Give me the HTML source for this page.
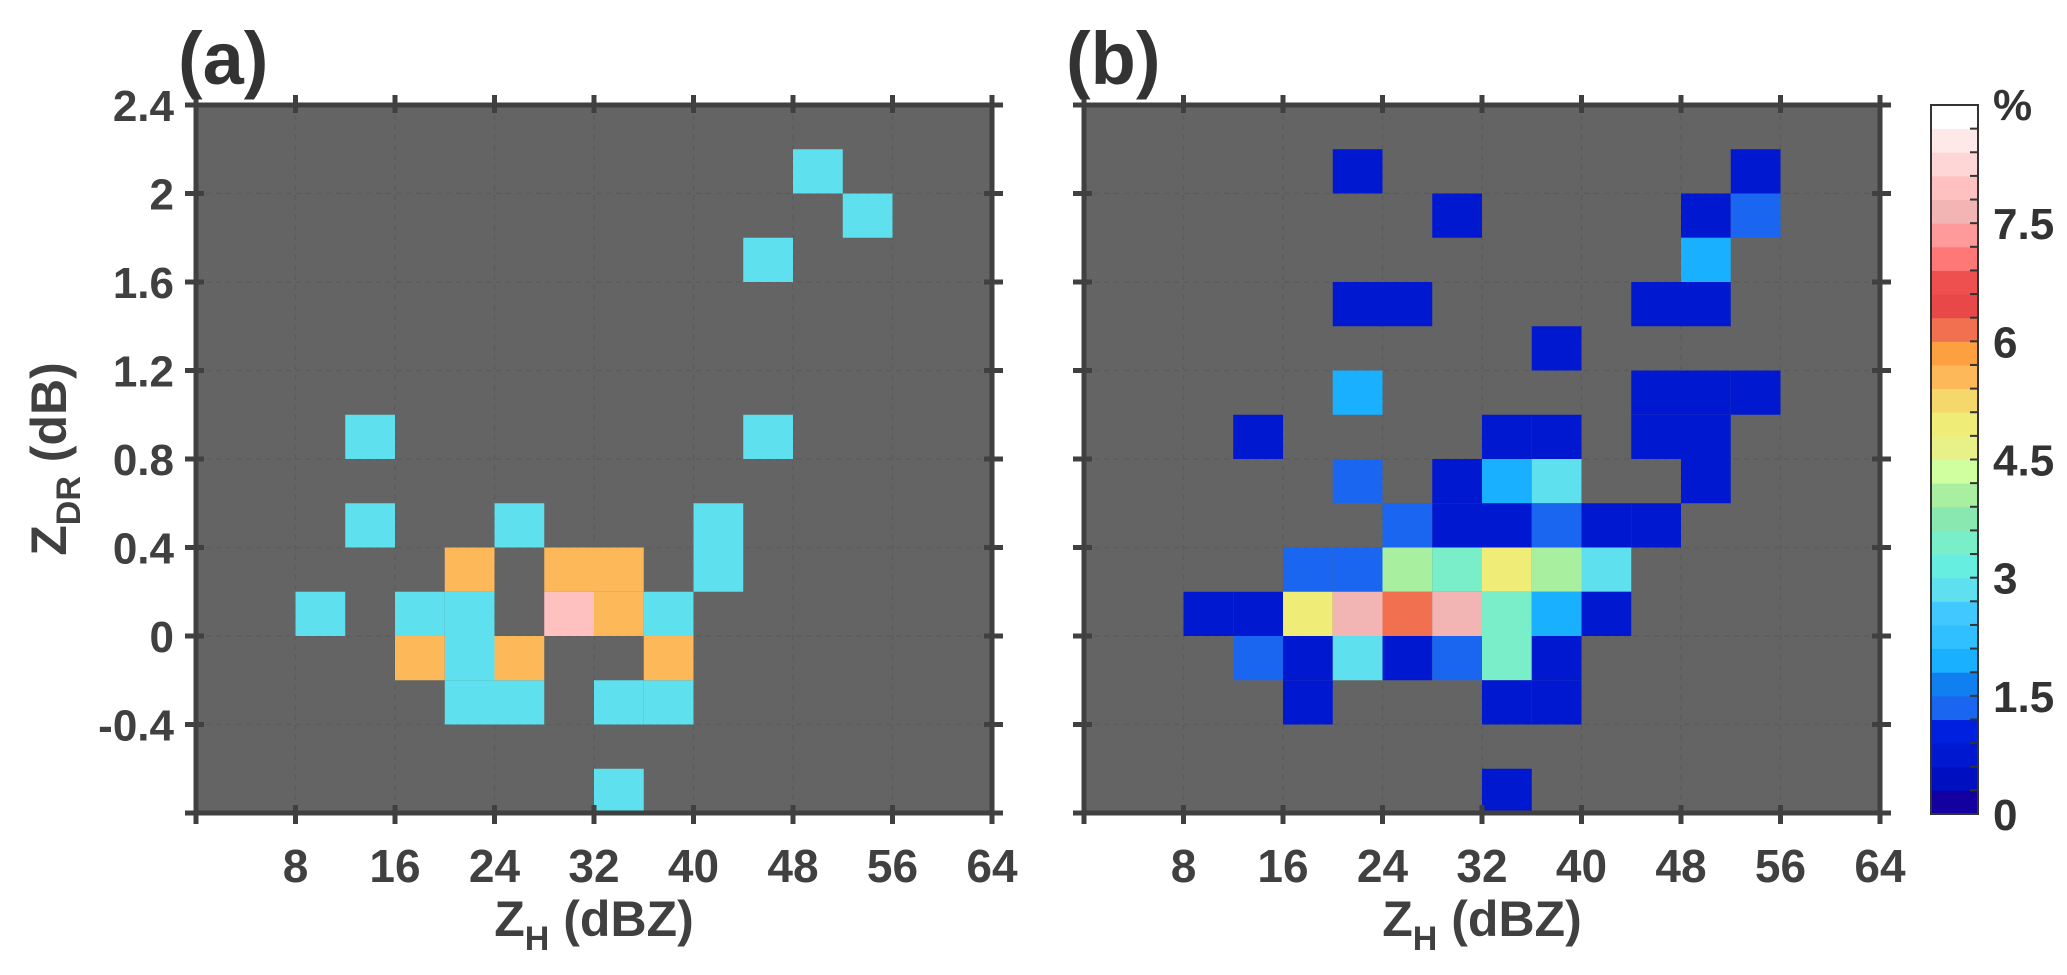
<!DOCTYPE html>
<html><head><meta charset="utf-8"><style>
html,body{margin:0;padding:0;background:#fff;}
svg{display:block;font-family:"Liberation Sans",sans-serif;}
</style></head><body>
<svg id="chart" width="2067" height="975" viewBox="0 0 2067 975" xmlns="http://www.w3.org/2000/svg"></svg>
<script>
// ---- data ----
const xTicks = [8,16,24,32,40,48,56,64];
const yTicks = [2.4,2,1.6,1.2,0.8,0.4,0,-0.4];
const yTickLabels = ["2.4","2","1.6","1.2","0.8","0.4","0","-0.4"];
const cbTicks = [0,1.5,3,4.5,6,7.5];
const cbColors = ["#1400a0","#0010c0","#0018d0","#0020e0","#1a66f0","#1080f0","#18b0ff","#30c0ff","#40c8ff","#5ee0ee",
 "#66eee0","#7aeec8","#88e8b0","#a8f0a0","#d0ffa0","#e8f088","#f0ec78","#f5d86a","#fdb85a","#fda040",
 "#f07050","#e84848","#ee5050","#ff7878","#ff9a9a","#f3b4b4","#ffc0c0","#ffd6d6","#ffe8e8","#ffffff"];
// panel (a): bin lower-left corners (ZH dBZ, ZDR dB) and frequency (%)
const aX = [48,52,44,12,44,12,24,40,40,8,16,20,20,20,24,32,36,36,32, 20,28,32,32,16,24,36, 28];
const aY = [2.0,1.8,1.6,0.8,0.8,0.4,0.4,0.4,0.2,0,0,0,-0.2,-0.4,-0.4,-0.4,-0.4,0,-0.8, 0.2,0.2,0.2,0,-0.2,-0.2,-0.2, 0];
const aV = [2.86,2.86,2.86,2.86,2.86,2.86,2.86,2.86,2.86,2.86,2.86,2.86,2.86,2.86,2.86,2.86,2.86,2.86,2.86, 5.6,5.6,5.6,5.6,5.6,5.6,5.6, 7.9];
// panel (b)
const bX = [20,52, 28,48,52, 48, 20,24,44,48, 36, 20,44,48,52, 12,32,36,44,48, 20,28,32,36,48, 24,28,32,36,40,44, 16,20,24,28,32,36,40, 8,12,16,20,24,28,32,36,40, 12,16,20,24,28,32,36, 16,32,36, 32];
const bY = [2.0,2.0, 1.8,1.8,1.8, 1.6, 1.4,1.4,1.4,1.4, 1.2, 1.0,1.0,1.0,1.0, 0.8,0.8,0.8,0.8,0.8, 0.6,0.6,0.6,0.6,0.6, 0.4,0.4,0.4,0.4,0.4,0.4, 0.2,0.2,0.2,0.2,0.2,0.2,0.2, 0,0,0,0,0,0,0,0,0, -0.2,-0.2,-0.2,-0.2,-0.2,-0.2,-0.2, -0.4,-0.4,-0.4, -0.8];
const bV = [0.75,0.75, 0.75,0.75,1.35, 1.95, 0.75,0.75,0.75,0.75, 0.75, 1.95,0.75,0.75,0.75, 0.75,0.75,0.75,0.75,0.75, 1.35,0.75,1.95,2.85,0.75, 1.35,0.75,0.75,1.35,0.75,0.75, 1.35,1.35,4.05,3.45,4.9,4.05,2.85, 0.75,0.75,4.9,7.6,6.1,7.6,3.45,1.95,0.75, 1.35,0.75,2.85,0.75,1.35,3.45,0.75, 0.75,0.75,0.75, 0.75];

// ---- layout ----
const NS="http://www.w3.org/2000/svg";
const svg=document.getElementById('chart');
const TOP=105,BOT=813,YMIN=-0.8,YMAX=2.4,XMAX=64,PW=796;
const CB={x0:1931,x1:1978,top:105,bot:814,max:9};
function mk(tag,attrs,parent){const e=document.createElementNS(NS,tag);for(const k in attrs)e.setAttribute(k,attrs[k]);(parent||svg).appendChild(e);return e;}
function yS(v){return BOT-(v-YMIN)/(YMAX-YMIN)*(BOT-TOP);}
function colorFor(v){let i=Math.floor(v/0.3);if(i<0)i=0;if(i>29)i=29;return cbColors[i];}
function cbY(v){return CB.bot-v/CB.max*(CB.bot-CB.top);}

function panel(L,xs,ys,vs,label,name,showY){
  const xS=v=>L+v/XMAX*PW;
  const g=mk('g',{});
  
  
  const bg=mk('rect',{x:L,y:TOP,width:PW,height:BOT-TOP,fill:'#646464'},g);
  
  
  xTicks.forEach(t=>{const l=mk('line',{x1:xS(t),x2:xS(t),y1:TOP,y2:BOT,stroke:'#5c5c5c','stroke-width':1.5,'stroke-dasharray':'5 5'},g);
    });
  yTicks.forEach(t=>{const l=mk('line',{x1:L,x2:L+PW,y1:yS(t),y2:yS(t),stroke:'#5c5c5c','stroke-width':1.5,'stroke-dasharray':'5 5'},g);
    });
  for(let i=0;i<xs.length;i++){
    const x0=xS(xs[i]),x1=xS(xs[i]+4),y0=yS(ys[i]+0.2),y1=yS(ys[i]);
    const r=mk('rect',{x:x0,y:y0,width:x1-x0,height:y1-y0,fill:colorFor(vs[i])},g);
    
    
  }
  const fr=mk('rect',{x:L,y:TOP,width:PW,height:BOT-TOP,fill:'none',stroke:'#404040','stroke-width':5},g);
  
  
  [0].concat(xTicks).forEach(t=>{
    const x=xS(t);
    const a=mk('line',{x1:x,x2:x,y1:TOP-10,y2:TOP+8,stroke:'#404040','stroke-width':5},g);
    
    const b=mk('line',{x1:x,x2:x,y1:BOT-8,y2:BOT+11,stroke:'#404040','stroke-width':5},g);
    
  });
  xTicks.forEach(t=>{
    const tx=mk('text',{x:xS(t),y:882,'text-anchor':'middle','font-size':46,'font-weight':'bold',fill:'#404040'},g);
    tx.textContent=t;
    
  });
  yTicks.concat([YMIN]).forEach(t=>{
    const y=yS(t);
    const a=mk('line',{x1:L-11,x2:L+8,y1:y,y2:y,stroke:'#404040','stroke-width':5},g);
    
    const b=mk('line',{x1:L+PW-8,x2:L+PW+11,y1:y,y2:y,stroke:'#404040','stroke-width':5},g);
    
  });
  if(showY){
    yTicks.forEach((t,i)=>{
      const tx=mk('text',{x:L-22,y:yS(t)+16,'text-anchor':'end','font-size':44,'font-weight':'bold',fill:'#404040'},g);
      tx.textContent=yTickLabels[i];
      
    });
  }
  const xt=mk('text',{x:L+PW/2,y:936,'text-anchor':'middle','font-size':50,'font-weight':'bold',fill:'#404040'},g);
  xt.innerHTML='Z<tspan font-size="34" dy="14">H</tspan><tspan dy="-14"> (dBZ)</tspan>';
  
  const pl=mk('text',{x:L-18,y:84,'font-size':74,'font-weight':'bold',fill:'#333'},g);
  pl.textContent=label;
  
}
panel(196,aX,aY,aV,'(a)','panel-a',true);
panel(1084,bX,bY,bV,'(b)','panel-b',false);

const yt=mk('text',{transform:'translate(66,459) rotate(-90)','text-anchor':'middle','font-size':50,'font-weight':'bold',fill:'#404040'});
yt.innerHTML='Z<tspan font-size="34" dy="14">DR</tspan><tspan dy="-14"> (dB)</tspan>';



const cg=mk('g',{});


cbColors.forEach((c,i)=>{
  const y0=cbY((i+1)*0.3),y1=cbY(i*0.3);
  const r=mk('rect',{x:CB.x0,y:y0,width:CB.x1-CB.x0,height:y1-y0+0.5,fill:c},cg);
  
  
  if(i>0){const t=mk('line',{x1:CB.x1-8,x2:CB.x1,y1:y1,y2:y1,stroke:'#333','stroke-width':2},cg);
    }
});
const cf=mk('rect',{x:CB.x0,y:CB.top,width:CB.x1-CB.x0,height:CB.bot-CB.top,fill:'none',stroke:'#333','stroke-width':2},cg);


cbTicks.forEach(t=>{
  const tx=mk('text',{x:1993,y:cbY(t)+16,'font-size':44,'font-weight':'bold',fill:'#333'},cg);
  tx.textContent=t;
  
});
const pc=mk('text',{x:1993,y:120,'font-size':44,'font-weight':'bold',fill:'#333'},cg);
pc.textContent='%';


</script>
</body></html>
